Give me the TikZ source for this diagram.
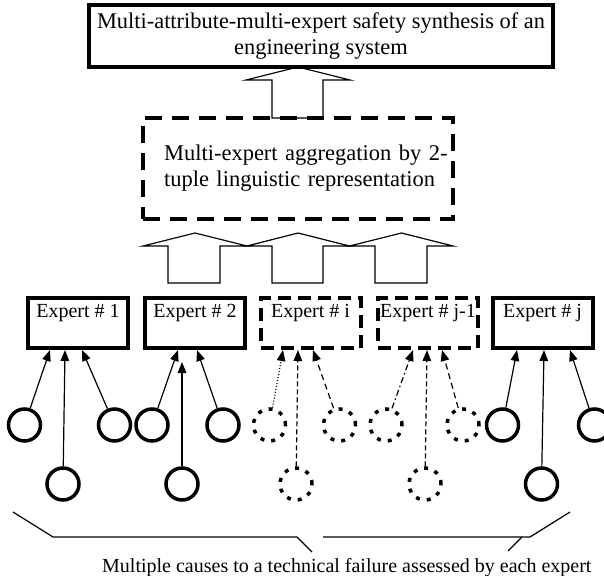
\documentclass[tikz,border=0pt]{standalone}
\usepackage{fontspec}
\setmainfont{Liberation Serif}
\usetikzlibrary{arrows.meta}
\begin{document}
\begin{tikzpicture}[x=1pt,y=-1pt,
  txt/.style={font=\fontsize{20}{26}\selectfont},
  bigtxt/.style={font=\fontsize{22.4}{26}\selectfont},
  midtxt/.style={font=\fontsize{22.5}{26}\selectfont},
  heavy/.style={draw, line width=4.5pt, rectangle, inner sep=0pt},
  dashedheavy/.style={heavy, line width=4pt, dash pattern=on 17pt off 10pt},
  expbox/.style={line width=4pt, draw, rectangle, minimum width=100pt, minimum height=50pt,
     inner xsep=2pt, inner ysep=3pt, text height=16pt, text depth=28pt, txt},
  dexpbox/.style={expbox, dash pattern=on 13pt off 7pt},
  cause/.style={circle, draw, line width=3.5pt, minimum size=32pt, inner sep=0pt},
  dcause/.style={cause, dash pattern=on 4pt off 7pt},
  arr/.style={line width=1.2pt, -{Triangle[length=11pt,width=8.5pt]}},
  blk/.style={line width=1.2pt, fill=white, line join=miter},
  thinline/.style={line width=1.2pt}
]
\useasboundingbox (0,0) rectangle (604,575);

% block arrows
\draw[blk] (272,118) -- (272,80) -- (246,80) -- (298,67) -- (350,80) -- (323,80) -- (323,118) -- cycle;
\draw[blk] (168,283) -- (168,246) -- (143,246) -- (195,233) -- (247,246) -- (220,246) -- (220,283) -- cycle;
\draw[blk] (272,283) -- (272,246) -- (247,246) -- (298,233) -- (349.5,246) -- (323,246) -- (323,283) -- cycle;
\draw[blk] (375,283) -- (375,246) -- (349.5,246) -- (401.5,233) -- (453,246) -- (427,246) -- (427,283) -- cycle;

% top box
\node[heavy, bigtxt, minimum width=464pt, minimum height=62pt, align=center] (top) at (321,36)
  {Multi-attribute-multi-expert safety synthesis of an\\engineering system};

% aggregation box
\node[dashedheavy, midtxt, minimum width=310pt, minimum height=101pt, align=left,
      inner xsep=21pt, text width=268pt] (agg) at (298,168.5)
  {\mbox{Multi-expert aggregation by 2-}\\\mbox{tuple linguistic representation}};

% experts
\node[expbox]  (e1) at (78,323)    {Expert \# 1};
\node[expbox]  (e2) at (195,323)   {Expert \# 2};
\node[dexpbox] (ei) at (310.5,323) {Expert \# i};
\node[dexpbox] (ej1) at (428,323)  {Expert \# j-1};
\node[expbox]  (ej) at (542.5,323) {Expert \# j};

% causes, top row
\node[cause]  (c1a) at (24.5,425) {};
\node[cause]  (c1c) at (114.5,425) {};
\node[cause]  (c2a) at (152,425) {};
\node[cause]  (c2c) at (223,425) {};
\node[dcause] (cia) at (269.5,425) {};
\node[dcause] (cic) at (339.5,425) {};
\node[dcause] (cj1a) at (386,425) {};
\node[dcause] (cj1c) at (463,425) {};
\node[cause]  (cja) at (502.5,425) {};
\node[cause]  (cjc) at (594.5,425) {};
% causes, bottom row
\node[cause]  (c1b) at (63,484) {};
\node[cause]  (c2b) at (182,484) {};
\node[dcause] (cib) at (296,484) {};
\node[dcause] (cj1b) at (425,484) {};
\node[cause]  (cjb) at (541.5,484) {};

% connectors
\draw[arr] (c1a) -- ([xshift=-28pt]e1.south);
\draw[arr] (c1b) -- ([xshift=-13pt]e1.south);
\draw[arr] (c1c) -- ([xshift=4pt]e1.south);

\draw[arr] (c2a) -- ([xshift=-17pt]e2.south);
\draw[arr] (c2b) -- ([xshift=-13pt,yshift=-12pt]e2.south);
\draw[arr] (c2c) -- ([xshift=2pt]e2.south);

\draw[arr, dash pattern=on 1pt off 2pt] (cia) -- ([xshift=-27.5pt]ei.south);
\draw[arr, dash pattern=on 5pt off 3pt] (cib) -- ([xshift=-12.5pt]ei.south);
\draw[arr, dash pattern=on 6pt off 4pt] (cic) -- ([xshift=2.5pt]ei.south);

\draw[arr, dash pattern=on 6pt off 3pt on 1.5pt off 3pt] (cj1a) -- ([xshift=-15pt]ej1.south);
\draw[arr, dash pattern=on 5pt off 3pt] (cj1b) -- ([xshift=-1pt]ej1.south);
\draw[arr, dash pattern=on 6pt off 4pt] (cj1c) -- ([xshift=14pt]ej1.south);

\draw[arr] (cja) -- ([xshift=-25.5pt]ej.south);
\draw[arr] (cjb) -- ([xshift=1.5pt]ej.south);
\draw[arr] (cjc) -- ([xshift=27.5pt]ej.south);

% brace
\draw[thinline] (13,512) -- (53,537) -- (297,537) -- (312,552);
\draw[thinline] (323,537) -- (530,537) -- (570,512);
\draw[thinline] (522,537) -- (508,551);

\node[txt, anchor=base west, inner sep=0pt] (cap) at (102,572)
  {Multiple causes to a technical failure assessed by each expert};
\end{tikzpicture}
\end{document}
